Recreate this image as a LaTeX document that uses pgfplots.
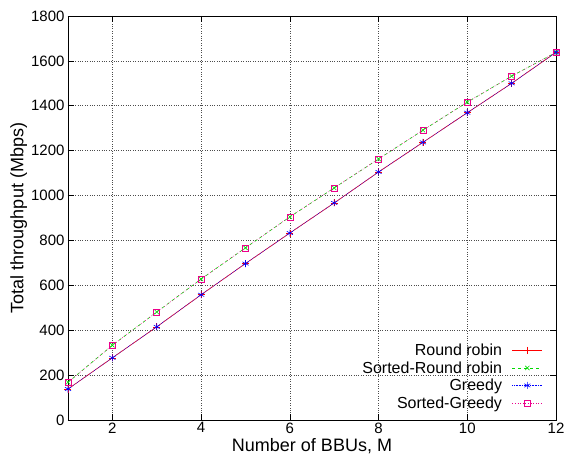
\documentclass[border=0pt]{standalone}
\usepackage{fontspec}
\setmainfont{Liberation Sans}
\usepackage{pgfplots}
\pgfplotsset{compat=1.18}
\begin{document}
\begin{tikzpicture}[x=1pt,y=1pt]
\begin{axis}[
  scale only axis,
  width=488pt, height=404pt,
  xmin=1, xmax=12, ymin=0, ymax=1800,
  xtick={2,4,6,8,10,12},
  ytick={0,200,...,1800},
  /pgf/number format/assume math mode=true,
  /pgf/number format/1000 sep={},
  tick label style={font=\fontsize{15}{17}\selectfont},
  xticklabel style={yshift=1pt},
  label style={font=\fontsize{18}{20}\selectfont},
  xlabel={Number of BBUs, M},
  ylabel={Total throughput (Mbps)},
  xlabel style={yshift=2pt},
  ylabel style={yshift=-3pt},
  grid=major,
  grid style={dotted, black!70, line width=0.6pt},
  major tick length=6pt,
  tick style={black, line width=0.6pt},
  axis line style={line width=0.8pt},
  legend cell align=right,
  legend plot pos=right,
  legend image code/.code={\draw[mark repeat=2,mark phase=2,#1] plot coordinates {(0pt,0pt) (15pt,0pt) (30pt,0pt)};},
  legend style={at={(0.975,0.02)}, anchor=south east, draw=none, fill=none,
    font=\fontsize{16}{18}\selectfont, row sep=2pt, column sep=8pt, inner sep=1pt,
    nodes={inner ysep=1.2pt}},
]
\addplot[red, line width=0.6pt, mark=+, mark size=3.5pt, mark options={solid}] coordinates {
(1,138)(2,277)(3,415)(4,558)(5,697)(6,833)(7,967)(8,1105)(9,1237)(10,1369)(11,1500)(12,1638)};
\addlegendentry{Round robin}
\addplot[green!85!black, line width=0.6pt, dashed, mark=x, mark size=3pt, mark options={solid}] coordinates {
(1,168)(2,333)(3,481)(4,628)(5,767)(6,905)(7,1034)(8,1163)(9,1291)(10,1416)(11,1532)(12,1638)};
\addlegendentry{Sorted-Round robin}
\addplot[blue, line width=0.6pt, densely dotted, mark=asterisk, mark size=3.5pt, mark options={solid}] coordinates {
(1,138)(2,277)(3,415)(4,558)(5,697)(6,833)(7,967)(8,1105)(9,1237)(10,1369)(11,1500)(12,1638)};
\addlegendentry{Greedy}
\addplot[magenta, line width=0.6pt, dotted, mark=square, mark size=3pt, mark options={solid}] coordinates {
(1,168)(2,333)(3,481)(4,628)(5,767)(6,905)(7,1034)(8,1163)(9,1291)(10,1416)(11,1532)(12,1638)};
\addlegendentry{Sorted-Greedy}
\end{axis}
\pgfresetboundingbox
\path[use as bounding box] ([xshift=-68pt,yshift=-44pt]current axis.south west) rectangle ([xshift=10pt,yshift=16pt]current axis.north east);
\end{tikzpicture}
\end{document}
